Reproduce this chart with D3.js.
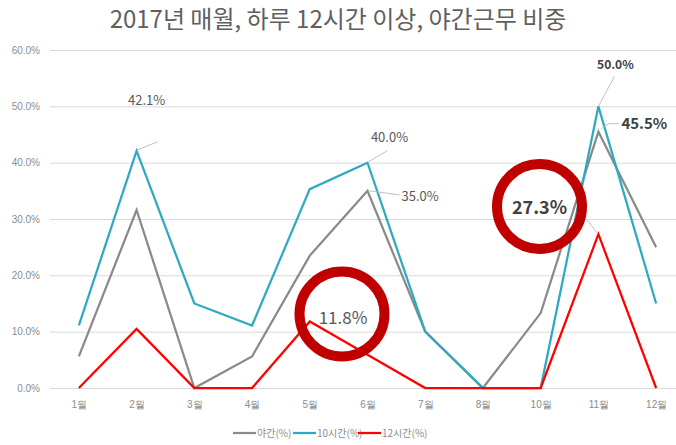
<!DOCTYPE html>
<html>
<head>
<meta charset="utf-8">
<script src="https://cdn.jsdelivr.net/npm/d3@7"></script>
<style>
  html, body { margin: 0; padding: 0; background: #fff; }
  svg { display: block; font-family: "Noto Sans CJK KR", "Noto Sans", sans-serif; }
</style>
</head>
<body>
<div id="chart"></div>
<script>
// -------- Data --------
const months = ['1월', '2월', '3월', '4월', '5월', '6월', '7월', '8월', '10월', '11월', '12월'];
const night  = [5.6, 31.6, 0, 5.6, 23.5, 35.0, 10.0, 0, 13.3, 45.5, 25.0];   // 야간(%)
const hours10 = [11.1, 42.1, 15.0, 11.1, 35.3, 40.0, 10.0, 0, 0, 50.0, 15.0]; // 10시간(%)
const hours12 = [0, 10.5, 0, 0, 11.8, 5.9, 0, 0, 0, 27.3, 0];                // 12시간(%)
const yTicks = [0, 10, 20, 30, 40, 50, 60];

const seriesNames = ['야간(%)', '10시간(%)', '12시간(%)'];
const seriesColors = ['#8a8a8a', '#2fa9c3', '#ff0000'];
const seriesData = [night, hours10, hours12];

// -------- Dimensions --------
const W = 676, H = 445;
const plot = { left: 50, right: 685, top: 50, bottom: 388 };

const svg = d3.select('#chart').append('svg')
  .attr('width', W).attr('height', H);

// -------- Scales --------
const x = d3.scalePoint().domain(months).range([plot.left, plot.right]).padding(0.5);
const y = d3.scaleLinear().domain([0, 60]).range([plot.bottom, plot.top]);

// title
svg.append('text')
  .attr('x', 338).attr('y', 28)
  .attr('text-anchor', 'middle')
  .attr('fill', '#5f5f5f')
  .style('font-size', '24px')
  .text('2017년 매월, 하루 12시간 이상, 야간근무 비중');

// -------- Grid & Y axis --------
const yAxis = svg.append('g')
  .attr('transform', `translate(${plot.left},0)`)
  .call(d3.axisLeft(y).tickValues(yTicks).tickSize(-(W - plot.left)).tickFormat(d => d.toFixed(1) + '%'));
yAxis.select('.domain').remove();
yAxis.selectAll('line').attr('stroke', '#d9d9d9').attr('stroke-width', 1);
yAxis.selectAll('text')
  .attr('x', -10)
  .attr('fill', '#8c8c8c')
  .style('font-size', '10px');

// -------- X axis --------
const xAxis = svg.append('g')
  .attr('transform', `translate(0,${plot.bottom})`)
  .call(d3.axisBottom(x).tickSize(0).tickPadding(13));
xAxis.select('.domain').remove();
xAxis.selectAll('text')
  .attr('fill', '#8c8c8c')
  .style('font-size', '10px');

// -------- Lines --------
const line = d3.line()
  .x((d, i) => x(months[i]))
  .y(d => y(d));

svg.selectAll('path.series')
  .data(seriesData)
  .join('path')
    .attr('class', 'series')
    .attr('fill', 'none')
    .attr('stroke', (d, i) => seriesColors[i])
    .attr('stroke-width', 2.25)
    .attr('stroke-linejoin', 'miter')
    .attr('d', line);

// -------- Highlight circles --------
const rings = [
  { cx: 342, cy: 314 },
  { cx: 539.5, cy: 206.5 }
];
svg.selectAll('circle.ring')
  .data(rings)
  .join('circle')
    .attr('class', 'ring')
    .attr('cx', d => d.cx).attr('cy', d => d.cy)
    .attr('r', 42.5)
    .attr('fill', 'none')
    .attr('stroke', '#c00000')
    .attr('stroke-width', 10);

// -------- Data labels --------
const labelColor = '#595959';
function leader(x1, y1, x2, y2) {
  svg.append('line')
    .attr('x1', x1).attr('y1', y1).attr('x2', x2).attr('y2', y2)
    .attr('stroke', '#bfbfbf').attr('stroke-width', 1);
}
function label(tx, ty, txt, size, weight, anchor) {
  svg.append('text')
    .attr('x', tx).attr('y', ty)
    .attr('text-anchor', anchor || 'middle')
    .attr('fill', weight === 'bold' ? '#404040' : labelColor)
    .style('font-size', size + 'px')
    .style('font-weight', weight || 'normal')
    .text(txt);
}

// 42.1% (2월, 10시간)
leader(x('2월') + 1, y(hours10[1]) - 1, x('2월') + 21, y(hours10[1]) - 9);
label(x('2월') + 10, 105, hours10[1].toFixed(1) + '%', 13);
// 40.0% (6월, 10시간)
leader(x('6월') + 1, y(hours10[5]) - 1, x('6월') + 20, y(hours10[5]) - 12);
label(x('6월') + 22, 142, hours10[5].toFixed(1) + '%', 13);
// 35.0% (6월, 야간)
leader(x('6월') + 2, y(night[5]), x('6월') + 32, y(night[5]) + 4);
label(x('6월') + 34, 201, night[5].toFixed(1) + '%', 13, 'normal', 'start');
// 50.0% (11월, 10시간)
leader(x('11월'), y(hours10[9]), x('11월') + 16, y(hours10[9]) - 30);
label(x('11월') + 17, 69, hours10[9].toFixed(1) + '%', 12, 'bold');
// 45.5% (11월, 야간)
leader(x('11월') + 3, y(night[9]) - 3, x('11월') + 10, y(night[9]) - 8);
leader(x('11월') + 10, y(night[9]) - 8, x('11월') + 21, y(night[9]) - 8);
label(x('11월') + 23, 129, night[9].toFixed(1) + '%', 15, 'bold', 'start');
// 27.3% (11월, 12시간) inside ring
leader(x('11월') - 1, y(hours12[9]) - 1, x('11월') - 12, y(hours12[9]) - 15);
label(rings[1].cx, 214, hours12[9].toFixed(1) + '%', 18, 'bold');
// 11.8% (5월, 12시간) inside ring
label(rings[0].cx + 1, 324, hours12[4].toFixed(1) + '%', 17);

// -------- Legend --------
const legendX = [233, 293, 358];
const legend = svg.append('g');
const items = legend.selectAll('g.legend-item')
  .data(seriesNames)
  .join('g')
    .attr('class', 'legend-item')
    .attr('transform', (d, i) => `translate(${legendX[i]},433)`);
items.append('line')
  .attr('x1', 0).attr('x2', 23).attr('y1', 0).attr('y2', 0)
  .attr('stroke', (d, i) => seriesColors[i])
  .attr('stroke-width', 2.25);
items.append('text')
  .attr('x', 24).attr('y', 4)
  .attr('fill', '#8c8c8c')
  .style('font-size', '10px')
  .text(d => d);
</script>
</body>
</html>
